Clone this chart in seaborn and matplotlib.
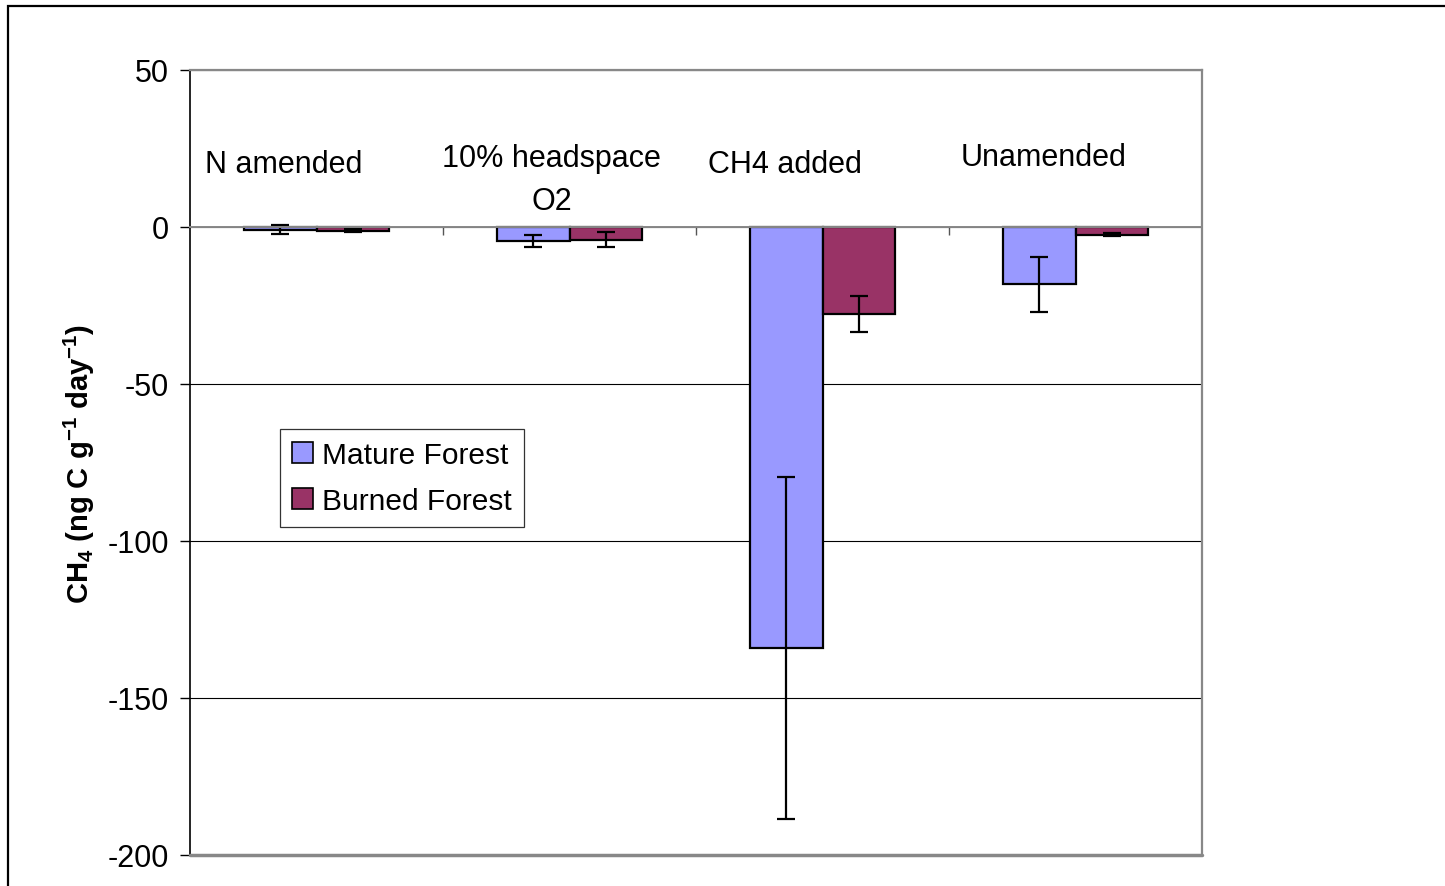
import matplotlib
matplotlib.use("Agg")
import matplotlib.pyplot as plt
import matplotlib.patches as mpatches
import seaborn as sns
import pandas as pd

# Treatments and forest types
categories = ["N amended", "10% headspace\nO2", "CH4 added", "Unamended"]
forests = ["Mature Forest", "Burned Forest"]

# CH4 flux means and standard errors (ng C g-1 day-1)
mature_mean = [-0.8, -4.5, -134.0, -18.3]
mature_err = [1.3, 2.0, 54.5, 8.8]
burned_mean = [-1.2, -4.1, -27.7, -2.5]
burned_err = [0.5, 2.4, 5.7, 0.5]

colors = ["#9999FF", "#993366"]
yticks = [50, 0, -50, -100, -150, -200]

sns.set_style("white")
plt.rcParams["font.family"] = ["Liberation Sans", "DejaVu Sans"]
plt.rcParams["axes.unicode_minus"] = False
plt.rcParams["text.color"] = "black"
plt.rcParams["axes.labelcolor"] = "black"
plt.rcParams["ytick.color"] = "black"
plt.rcParams["mathtext.fontset"] = "custom"
plt.rcParams["mathtext.rm"] = "Liberation Sans"
plt.rcParams["mathtext.bf"] = "Liberation Sans:bold"

df = pd.DataFrame({
    "treatment": categories * 2,
    "forest": [forests[0]] * 4 + [forests[1]] * 4,
    "flux": mature_mean + burned_mean,
})

fig = plt.figure(figsize=(14.45, 8.87), dpi=100)
ax = fig.add_axes([190 / 1445, 1 - 856 / 887, (1202 - 190) / 1445, (856 - 71) / 887])

sns.barplot(data=df, x="treatment", y="flux", hue="forest", order=categories,
            hue_order=forests, palette=colors, width=0.577, gap=0,
            errorbar=None, edgecolor="black", linewidth=1.6, saturation=1,
            ax=ax, zorder=3)

# error bars centred on each bar
for container, errs in zip(ax.containers, [mature_err, burned_err]):
    for bar, e in zip(container, errs):
        xc = bar.get_x() + bar.get_width() / 2
        ax.errorbar(xc, bar.get_height(), yerr=e, fmt="none", ecolor="black",
                    elinewidth=1.6, capsize=6.5, capthick=1.6, zorder=4)

ax.set_xlim(-0.5, 3.5)
ax.set_ylim(-200, 50)
ax.set_yticks(yticks)
ax.tick_params(axis="y", labelsize=22, direction="out", length=7, width=1,
               color="black", labelcolor="black", left=True, pad=8)

# category separators on the zero line
ax.set_xticks([0.5, 1.5, 2.5])
ax.set_xticklabels([])
ax.tick_params(axis="x", direction="out", length=6, width=1, color="#555555",
               bottom=True)
ax.set_xlabel("")

ax.grid(axis="y", color="black", linewidth=0.8, zorder=0)
ax.set_axisbelow(True)

for side in ["top", "right"]:
    ax.spines[side].set_visible(True)
    ax.spines[side].set_color("#888888")
    ax.spines[side].set_linewidth(1.6)
ax.spines["left"].set_color("black")
ax.spines["left"].set_linewidth(1.2)
ax.spines["bottom"].set_position(("data", 0))
ax.spines["bottom"].set_color("#888888")
ax.spines["bottom"].set_linewidth(1.4)
ax.spines["bottom"].set_zorder(5)
ax.axhline(-200, color="#888888", linewidth=2.5, zorder=5, clip_on=False)

ax.set_ylabel(r"$\mathbf{CH_4}$ (ng C g$^{\mathbf{-1}}$ day$^{\mathbf{-1}}$)",
              fontsize=21, fontweight="bold", color="black", labelpad=8)

# treatment labels inside the plot area
label_x = [-0.13, 0.93, 1.85, 2.875]
label_y = [20, 15.2, 20, 22.3]
for lx, ly, txt in zip(label_x, label_y, categories):
    ax.text(lx, ly, txt, ha="center", va="center", fontsize=22,
            linespacing=1.55, color="black")

leg = ax.legend(loc="upper left", bbox_to_anchor=(0.089, 0.543), fontsize=21.5,
                frameon=True, fancybox=False, framealpha=1, edgecolor="#333333",
                handlelength=0.7, handleheight=0.7, handletextpad=0.3,
                borderpad=0.4, labelspacing=0.6, borderaxespad=0)
leg.get_frame().set_linewidth(0.9)
for t in leg.get_texts():
    t.set_color("black")
for h in leg.legend_handles:
    h.set_edgecolor("black")
    h.set_linewidth(1.2)

# outer chart border
fig.patches.append(mpatches.Rectangle((8 / 1445, -0.1), 1.2, 1.1 - 7 / 887,
                                      transform=fig.transFigure, fill=False,
                                      edgecolor="black", linewidth=1.6))

fig.savefig("out.png", dpi=100)
